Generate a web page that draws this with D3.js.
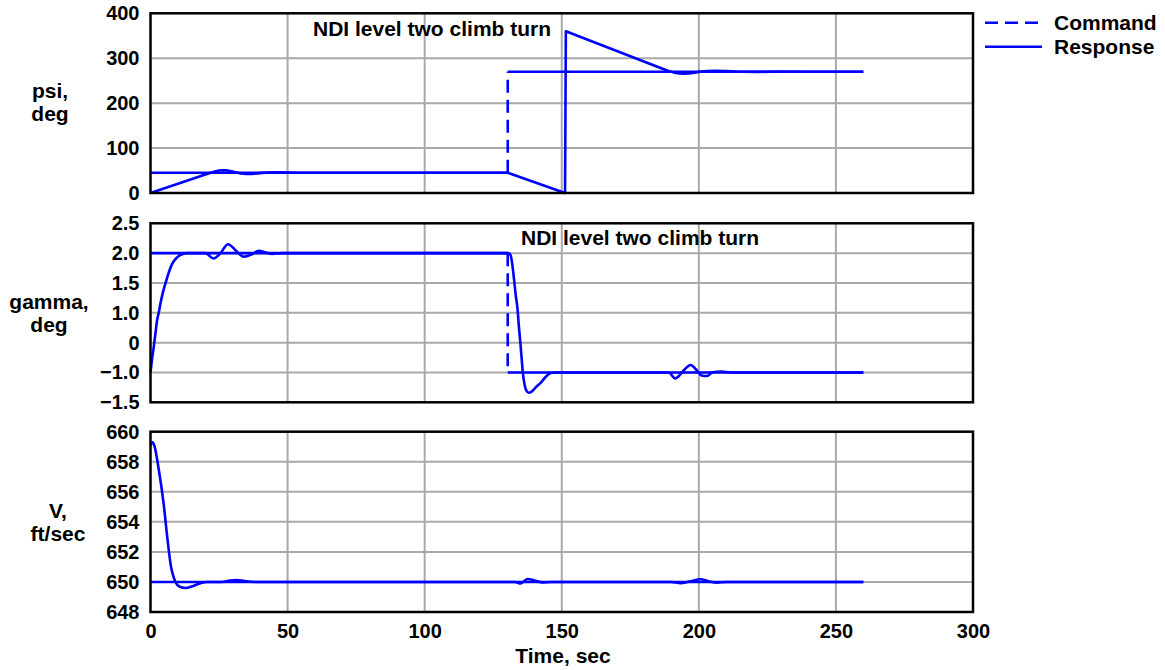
<!DOCTYPE html>
<html>
<head>
<meta charset="utf-8">
<script src="https://cdn.jsdelivr.net/npm/d3@7"></script>
<style>
  body { margin: 0; background: #fff; }
  text { font-family: "Liberation Sans", Arial, sans-serif; font-weight: bold; fill: #000; }
</style>
</head>
<body>
<div id="svganchor"></div>
<script>
let width = 1165;
let height = 670;

// time axis
let timeTicks = [0, 50, 100, 150, 200, 250, 300];

// psi panel (deg)
let psiTicks = [0, 100, 200, 300, 400];
let psiCommand = [[0, 45], [130.3, 45], [130.3, 270], [260, 270]];
let psiResponse = [
  [0, 0], [20, 41], [22, 45], [23.5, 48], [25, 50], [26.5, 50.8], [28, 50.3], [29.5, 48.5],
  [31, 46], [33, 43.5], [35, 42.3], [37, 42.5], [39, 43.6], [41, 44.8], [43, 45.6], [46, 46],
  [50, 45.6], [55, 45.2], [60, 45], [130.3, 45], [151.2, 0], [151.5, 360],
  [187, 276], [189, 271.5], [191, 268], [193, 266], [195, 265.5], [197, 266.5], [199, 268.5],
  [201, 270.5], [203, 271.5], [206, 272], [210, 271.5], [215, 269.8], [222, 269.6], [230, 270.4],
  [240, 270], [260, 270]
];

// gamma panel (deg) - tick labels as printed on the original axis
let gammaTicks = [-1.5, -1.0, 0, 1.0, 1.5, 2.0, 2.5];
let gammaCommand = [[0, 2.0], [130.3, 2.0], [130.3, -1.0], [260, -1.0]];
let gammaResponse = [
  [0, -1.0], [0.5, -0.6], [1.1, -0.2], [1.8, 0.3], [2.4, 0.75], [3, 1.0], [3.6, 1.15], [4.2, 1.28],
  [5.5, 1.5], [6.7, 1.68], [7.9, 1.82], [9.5, 1.92], [11, 1.97], [13, 2.0], [20, 2.0], [23, 1.91],
  [25.5, 2.0], [28.3, 2.15], [31, 2.05], [34, 1.94], [37, 1.98], [39.5, 2.04], [42, 2.01],
  [44.4, 1.985], [48, 2.0],
  [130.5, 2.0], [131.3, 1.97], [132, 1.8], [132.5, 1.6], [133.2, 1.3], [133.9, 1.05], [134.4, 0.5],
  [134.9, 0], [135.35, -0.5], [135.8, -1.0], [136.5, -1.22], [137.3, -1.32], [138, -1.34],
  [139, -1.32], [140.5, -1.25], [142.2, -1.18], [144, -1.08], [146, -1.01], [148, -1.0],
  [189, -1.0], [191.4, -1.1], [193.5, -1.02], [195, -0.88], [197, -0.75], [199, -0.9],
  [201, -1.05], [203, -1.06], [205, -0.99], [208, -0.97], [212, -1.0], [260, -1.0]
];

// V panel (ft/sec)
let vTicks = [648, 650, 652, 654, 656, 658, 660];
let vCommand = [[0, 650], [260, 650]];
let vResponse = [
  [0, 659.1], [0.8, 659.3], [1.5, 659.0], [3, 657.5], [4.8, 655.2], [6.1, 653], [7.5, 651],
  [8.3, 650.4], [9.1, 650.0], [10.5, 649.7], [12.8, 649.6], [15, 649.7], [18, 649.9], [20.6, 650],
  [26, 650.0], [29, 650.1], [31.6, 650.13], [34, 650.07], [38, 650], [133, 650], [135, 649.9],
  [137.5, 650.2], [140, 650.1], [143, 649.97], [146, 650], [190, 650], [193.3, 649.92],
  [197, 650.05], [200.6, 650.18], [203.5, 650.05], [206.7, 649.95], [210, 650], [260, 650]
];

let blue = "#0000ff";
let grid = "#a9a9a9";

let svg = d3.select("#svganchor").append("svg").attr("width", width).attr("height", height);

let xScale = d3.scaleLinear().domain([0, 300]).range([150.5, 973]);

function evenRange(n, bottom, top) {
  return d3.range(n).map(i => bottom + (top - bottom) * i / (n - 1));
}

let panels = [
  {
    label: ["psi,", "deg"], labelX: 50, labelY: 98,
    y: d3.scaleLinear().domain([0, 400]).range([193, 13.3]),
    ticks: psiTicks, fmt: d => d3.format("d")(d),
    command: psiCommand, response: psiResponse, curve: d3.curveLinear,
    note: { text: "NDI level two climb turn", x: 313, y: 36 }
  },
  {
    label: ["gamma,", "deg"], labelX: 49, labelY: 309,
    y: d3.scaleLinear().domain(gammaTicks).range(evenRange(gammaTicks.length, 402.3, 223.3)),
    ticks: gammaTicks, fmt: d => d === 0 ? "0" : d3.format(".1f")(d).replace("-", "\u2013"),
    command: gammaCommand, response: gammaResponse, curve: d3.curveMonotoneX,
    note: { text: "NDI level two climb turn", x: 521, y: 245 }
  },
  {
    label: ["V,", "ft/sec"], labelX: 58, labelY: 518,
    y: d3.scaleLinear().domain([648, 660]).range([612, 431.7]),
    ticks: vTicks, fmt: d => d3.format("d")(d),
    command: vCommand, response: vResponse, curve: d3.curveMonotoneX
  }
];

panels.forEach(function (p, idx) {
  let g = svg.append("g");
  let yTop = p.y.range()[p.y.range().length - 1];
  let yBot = p.y.range()[0];

  // grid
  g.selectAll(".vgrid").data(timeTicks.slice(1, -1)).enter().append("line")
    .attr("x1", d => xScale(d)).attr("x2", d => xScale(d))
    .attr("y1", yTop).attr("y2", yBot)
    .attr("stroke", grid).attr("stroke-width", 2);
  g.selectAll(".hgrid").data(p.ticks.slice(1, -1)).enter().append("line")
    .attr("x1", xScale(0)).attr("x2", xScale(300))
    .attr("y1", d => p.y(d)).attr("y2", d => p.y(d))
    .attr("stroke", grid).attr("stroke-width", 2);

  // y tick labels
  let ax = g.append("g").attr("transform", "translate(" + xScale(0) + ",0)")
    .call(d3.axisLeft(p.y).tickValues(p.ticks).tickSize(0).tickPadding(11).tickFormat(p.fmt));
  ax.select(".domain").remove();
  ax.attr("font-family", null).attr("font-size", null);
  ax.selectAll("text").style("font-size", "20px");

  // panel label
  g.selectAll(".plabel").data(p.label).enter().append("text")
    .attr("x", p.labelX).attr("y", (d, i) => p.labelY + i * 23)
    .attr("text-anchor", "middle").style("font-size", "21px")
    .text(d => d);

  let line = d3.line().x(d => xScale(d[0])).y(d => p.y(d[1]));

  // command: flat parts solid, step dashed
  d3.pairs(p.command).forEach(function (seg) {
    let vertical = seg[0][0] === seg[1][0];
    g.append("path").attr("d", line(seg))
      .attr("fill", "none").attr("stroke", blue).attr("stroke-width", 2.6)
      .attr("stroke-dasharray", vertical ? "13,7" : null);
  });

  // response
  g.append("path").datum(p.response)
    .attr("d", line.curve(p.curve))
    .attr("fill", "none").attr("stroke", blue).attr("stroke-width", 2.6)
    .attr("stroke-linejoin", "round");

  // frame
  g.append("rect").attr("x", xScale(0)).attr("y", yTop)
    .attr("width", xScale(300) - xScale(0)).attr("height", yBot - yTop)
    .attr("fill", "none").attr("stroke", "#000").attr("stroke-width", 2.5);

  if (p.note) {
    g.append("text").attr("x", p.note.x).attr("y", p.note.y)
      .style("font-size", "21px").text(p.note.text);
  }

  if (idx === panels.length - 1) {
    let xa = g.append("g").attr("transform", "translate(0," + yBot + ")")
      .call(d3.axisBottom(xScale).tickValues(timeTicks).tickSize(0).tickPadding(12).tickFormat(d3.format("d")));
    xa.select(".domain").remove();
    xa.attr("font-family", null).attr("font-size", null);
    xa.selectAll("text").style("font-size", "20px");
    g.append("text").attr("x", 563).attr("y", 663).attr("text-anchor", "middle")
      .style("font-size", "21px").text("Time, sec");
  }
});

// legend
let legend = svg.append("g");
let legendItems = [
  { name: "Command", dash: "13,7", y: 22.7 },
  { name: "Response", dash: null, y: 46.7 }
];
legendItems.forEach(function (d) {
  legend.append("line").attr("x1", 985).attr("x2", 1042).attr("y1", d.y).attr("y2", d.y)
    .attr("stroke", blue).attr("stroke-width", 2.6).attr("stroke-dasharray", d.dash);
  legend.append("text").attr("x", 1054).attr("y", d.y + 7.5)
    .style("font-size", "21px").text(d.name);
});
</script>
</body>
</html>
